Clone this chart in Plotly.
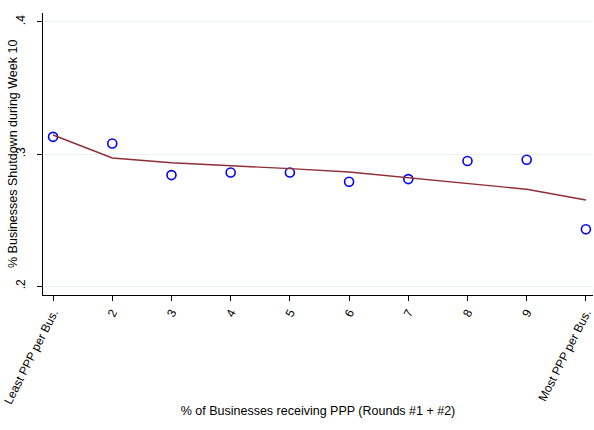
import plotly.graph_objects as go

x_vals = [1, 2, 3, 4, 5, 6, 7, 8, 9, 10]
scatter_y = [0.313, 0.308, 0.284, 0.286, 0.286, 0.279, 0.281, 0.2947, 0.2957, 0.243]
fit_y = [0.3144, 0.297, 0.2934, 0.2914, 0.2889, 0.2864, 0.282, 0.278, 0.2733, 0.2652]
x_ticktext = ["Least PPP per Bus.", "2", "3", "4", "5", "6", "7", "8", "9", "Most PPP per Bus."]
y_tickvals = [0.2, 0.3, 0.4]
y_ticktext = [".2", ".3", ".4"]

fig = go.Figure()
fig.add_trace(go.Scatter(
    x=x_vals, y=scatter_y, mode="markers",
    marker=dict(symbol="circle-open", size=9, color="#0000ff", line=dict(width=1.6, color="#0000ff")),
    showlegend=False,
))
fig.add_trace(go.Scatter(
    x=x_vals, y=fit_y, mode="lines",
    line=dict(color="#8f2f35", width=1.4),
    showlegend=False,
))

font_family = "Liberation Sans, Arial, sans-serif"
fig.update_layout(
    width=594, height=430,
    margin=dict(l=43, r=1, t=13, b=135),
    paper_bgcolor="white", plot_bgcolor="white",
    font=dict(family=font_family, size=12, color="#000000"),
    xaxis=dict(
        range=[0.83, 10.12],
        tickmode="array", tickvals=x_vals, ticktext=x_ticktext,
        tickangle=-63,
        ticks="outside", ticklen=5, tickcolor="#000000", tickwidth=1,
        showline=True, linecolor="#000000", linewidth=1,
        showgrid=False, zeroline=False,
        automargin=False, ticklabeloverflow="allow",
        title=dict(text="% of Businesses receiving PPP (Rounds #1 + #2)", standoff=0,
                   font=dict(size=12.5)),
        tickfont=dict(size=12),
    ),
    yaxis=dict(
        range=[0.1932, 0.4068],
        tickmode="array", tickvals=y_tickvals, ticktext=y_ticktext,
        tickangle=-90,
        ticks="outside", ticklen=5, tickcolor="#000000", tickwidth=1,
        ticklabelstandoff=7,
        showline=True, linecolor="#000000", linewidth=1,
        showgrid=True, gridcolor="#eaf1f1", gridwidth=1,
        zeroline=False,
        automargin=False, ticklabeloverflow="allow",
        tickfont=dict(size=12),
    ),
    annotations=[dict(
        text="% Businesses Shutdown during Week 10",
        xref="paper", yref="paper", x=0, y=0.5,
        xshift=-30, textangle=-90, showarrow=False,
        xanchor="center", yanchor="middle",
        font=dict(size=12.5),
    )],
)

fig.write_html(
    "out.html",
    config={"displayModeBar": False},
    post_script="document.body.style.margin='0';document.body.style.overflow='hidden';",
)
